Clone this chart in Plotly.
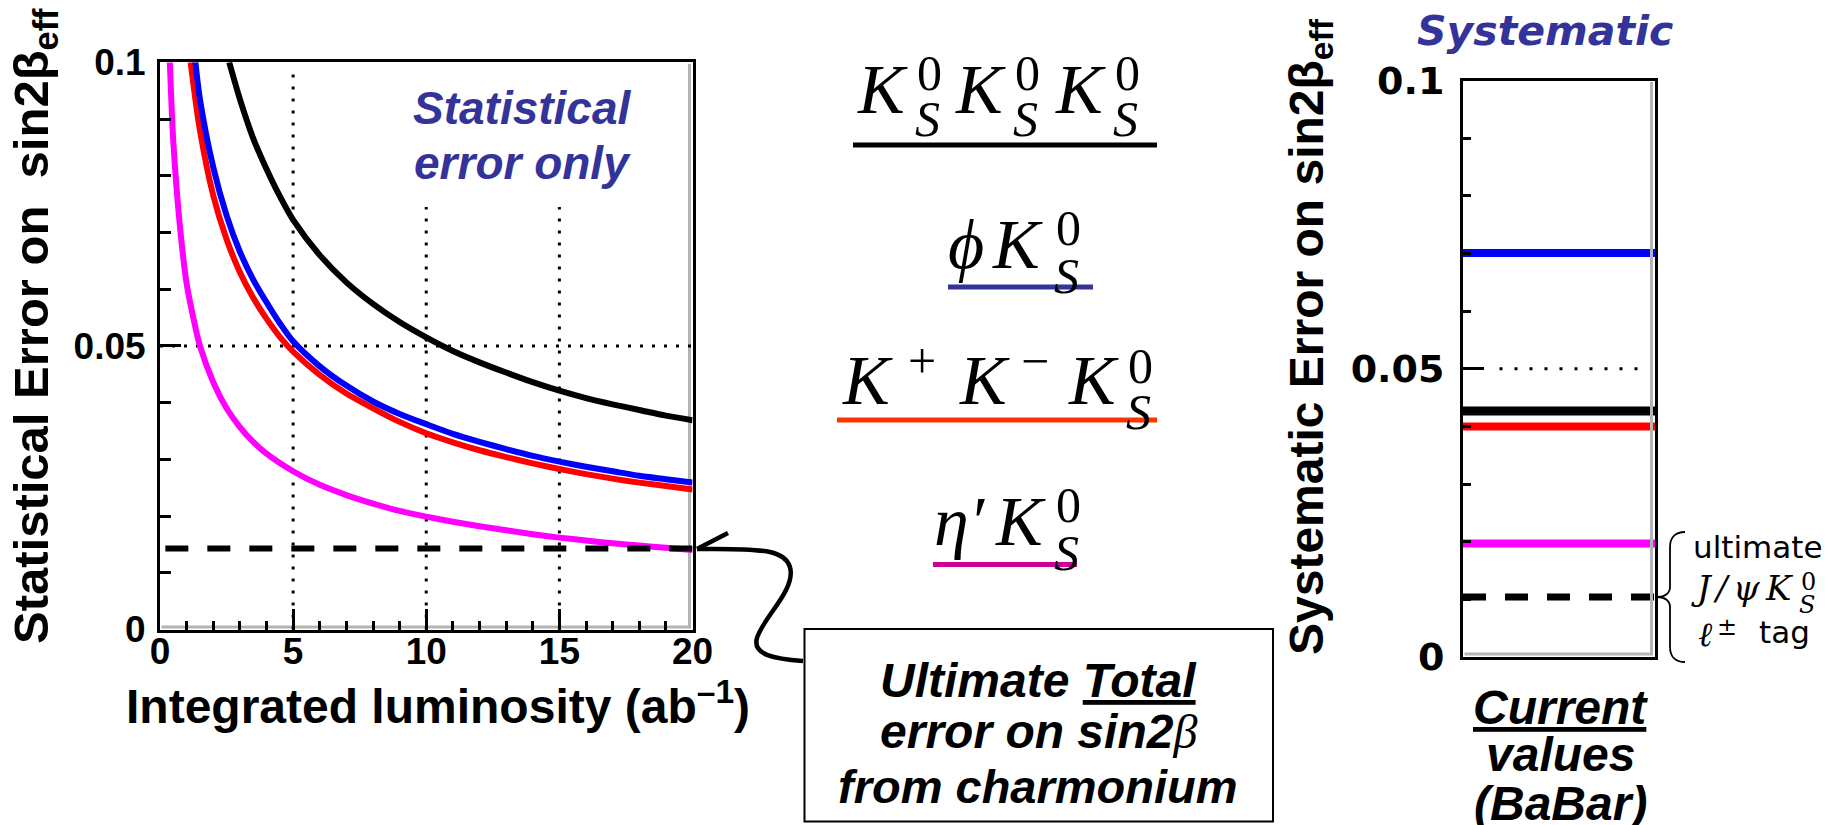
import plotly.graph_objects as go

# ---------------- data ----------------
# Statistical error vs integrated luminosity (ab^-1)
LUMI_KSKSKS = [2.6, 3.0, 3.5, 4.0, 4.5, 5, 6, 7, 8, 9, 10, 11, 12, 13, 14, 15, 16, 17, 18, 19, 20]
ERR_KSKSKS = [0.1000, 0.0935, 0.0866, 0.0812, 0.0764, 0.0722, 0.0660, 0.0612, 0.0574, 0.0542, 0.0515,
              0.0491, 0.0471, 0.0453, 0.0436, 0.0421, 0.0408, 0.0397, 0.0387, 0.0377, 0.0369]

LUMI_PHIKS = [1.33, 1.5, 2.0, 2.5, 3.0, 3.5, 4, 4.5, 5, 6, 7, 8, 9, 10, 11, 12, 13, 14, 15, 16, 17, 18, 19, 20]
ERR_PHIKS = [0.1000, 0.0935, 0.0815, 0.0730, 0.0666, 0.0617, 0.0577, 0.0540, 0.0508, 0.0464, 0.0430, 0.0402,
             0.0380, 0.0362, 0.0345, 0.0331, 0.0318, 0.0306, 0.0296, 0.0287, 0.0279, 0.0271, 0.0265, 0.0259]

LUMI_KKKS = [1.15, 1.5, 2.0, 2.5, 3.0, 3.5, 4, 4.5, 5, 6, 7, 8, 9, 10, 11, 12, 13, 14, 15, 16, 17, 18, 19, 20]
ERR_KKKS = [0.1000, 0.0880, 0.0765, 0.0688, 0.0630, 0.0585, 0.0548, 0.0516, 0.0490, 0.0449, 0.0416, 0.0390,
            0.0366, 0.0346, 0.0330, 0.0316, 0.0304, 0.0293, 0.0283, 0.0274, 0.0266, 0.0259, 0.0253, 0.0247]

LUMI_ETAPKS = [0.37, 0.5, 0.75, 1.0, 1.25, 1.5, 2.0, 2.5, 3, 3.5, 4, 5, 6, 7, 8, 9, 10, 11, 12, 13, 14, 15,
               16, 17, 18, 19, 20]
ERR_ETAPKS = [0.1000, 0.0860, 0.0710, 0.0610, 0.0550, 0.0500, 0.0436, 0.0390, 0.0357, 0.0331, 0.0310, 0.0279,
              0.0255, 0.0237, 0.0222, 0.0209, 0.0199, 0.0190, 0.0182, 0.0175, 0.0168, 0.0162, 0.0157, 0.0152,
              0.0148, 0.0144, 0.0140]

ULTIMATE_TOTAL = 0.0143          # ultimate total error from charmonium (dashed, left)

# Current systematic errors (BaBar)
SYST_MODES = ["KsKsKs", "phiKs", "KKKs", "etapKs"]
SYST_VALUES = [0.0427, 0.0701, 0.0400, 0.0197]
SYST_ULTIMATE_JPSI = 0.0104      # ultimate J/psi Ks, lepton tag (dashed, right)

X_TICKS = [0, 5, 10, 15, 20]
X_TICK_TEXT = ["0", "5", "10", "15", "20"]
Y_TICKS = [0, 0.05, 0.1]
Y_TICK_TEXT = ["0", "0.05", "0.1"]
LUMI_RANGE = [0, 20]
ERR_RANGE = [0, 0.1]

# ---------------- style ----------------
W, H = 1845, 825          # window
OFF = 8                   # page body margin
FW, FH = W - OFF, H - OFF
SANS = "Liberation Sans, Arial, sans-serif"
SERIF = "Liberation Serif, Times New Roman, serif"
DJ = "DejaVu Sans, sans-serif"
DJS = "DejaVu Serif, serif"
PURPLE = "#333399"
COLORS = {"KsKsKs": "#000000", "phiKs": "#0000FF", "KKKs": "#FF0000", "etapKs": "#FF00FF"}
SYST_WIDTH = {"KsKsKs": 9, "phiKs": 8, "KKKs": 8, "etapKs": 8}
GRAY = "#b4b4b4"


def px(x):
    return (x - OFF) / FW


def py(y):
    return 1 - (y - OFF) / FH


def path(cmds):
    s = []
    for c, pts in cmds:
        s.append(c + " " + " ".join(f"{px(a):.5f},{py(b):.5f}" for a, b in pts))
    return " ".join(s)


fig = go.Figure()

# ---------------- left panel curves ----------------
curves = [("KsKsKs", LUMI_KSKSKS, ERR_KSKSKS), ("KKKs", LUMI_KKKS, ERR_KKKS),
          ("phiKs", LUMI_PHIKS, ERR_PHIKS), ("etapKs", LUMI_ETAPKS, ERR_ETAPKS)]
for name, xs, ys in curves:
    fig.add_trace(go.Scatter(x=xs, y=ys, mode="lines", name=name, hoverinfo="skip",
                             line=dict(color=COLORS[name], width=6, shape="spline", smoothing=0.8),
                             xaxis="x", yaxis="y"))
fig.add_trace(go.Scatter(x=[LUMI_RANGE[0] + 0.2, LUMI_RANGE[1]], y=[ULTIMATE_TOTAL, ULTIMATE_TOTAL],
                         mode="lines", hoverinfo="skip",
                         line=dict(color="black", width=6, dash="23px,19px"), xaxis="x", yaxis="y"))

# ---------------- right panel lines ----------------
for name, v in zip(SYST_MODES, SYST_VALUES):
    fig.add_trace(go.Scatter(x=[0, 1], y=[v, v], mode="lines", hoverinfo="skip",
                             line=dict(color=COLORS[name], width=SYST_WIDTH[name]), xaxis="x2", yaxis="y2"))
fig.add_trace(go.Scatter(x=[0, 1], y=[SYST_ULTIMATE_JPSI, SYST_ULTIMATE_JPSI], mode="lines", hoverinfo="skip",
                         line=dict(color="black", width=7, dash="23px,19px"), xaxis="x2", yaxis="y2"))

shapes = []
# dotted grid, left panel
dot = dict(color="black", width=3, dash="3px,9px")
shapes.append(dict(type="line", xref="x", yref="y", x0=5, x1=5, y0=0, y1=0.098, line=dot, layer="below"))
for xv in (10, 15):
    shapes.append(dict(type="line", xref="x", yref="y", x0=xv, x1=xv, y0=0, y1=0.0745, line=dot, layer="below"))
shapes.append(dict(type="line", xref="x", yref="y", x0=0, x1=20, y0=0.05, y1=0.05, line=dot, layer="below"))
# dotted line, right panel
shapes.append(dict(type="line", xref="x2", yref="y2", x0=0.19, x1=0.93, y0=0.05, y1=0.05,
                   line=dict(color="black", width=3, dash="3px,12px")))
# frame shadows
shapes.append(dict(type="line", xref="paper", yref="paper", x0=px(689.5), x1=px(689.5), y0=py(628), y1=py(64),
                   line=dict(color=GRAY, width=3), layer="below"))
shapes.append(dict(type="line", xref="paper", yref="paper", x0=px(161.5), x1=px(691), y0=py(627), y1=py(627),
                   line=dict(color=GRAY, width=3), layer="below"))
shapes.append(dict(type="line", xref="paper", yref="paper", x0=px(1651.5), x1=px(1651.5), y0=py(655), y1=py(82),
                   line=dict(color=GRAY, width=3)))
shapes.append(dict(type="line", xref="paper", yref="paper", x0=px(1464.5), x1=px(1653), y0=py(654), y1=py(654),
                   line=dict(color=GRAY, width=3)))
# underlines of the mode labels
for (x0, x1, yy, c) in [(853, 1157, 145, "#000000"), (948, 1093, 287, PURPLE),
                        (837, 1157, 420, "#FF3300"), (933, 1077, 564.5, "#CC0099")]:
    shapes.append(dict(type="line", xref="paper", yref="paper", x0=px(x0), x1=px(x1), y0=py(yy), y1=py(yy),
                       line=dict(color=c, width=5)))
# box
shapes.append(dict(type="rect", xref="paper", yref="paper", x0=px(804.5), x1=px(1273), y0=py(821.5), y1=py(629),
                   line=dict(color="black", width=2)))
# curved arrow
shapes.append(dict(type="path", xref="paper", yref="paper",
                   path=path([("M", [(803, 661)]), ("C", [(775, 659), (752, 655), (757, 638)]),
                              ("C", [(761, 624), (779, 605), (786, 590)]),
                              ("C", [(795, 572), (792, 557), (770, 552)]),
                              ("C", [(750, 548), (720, 549), (697, 549)])]),
                   line=dict(color="black", width=4.5)))
shapes.append(dict(type="path", xref="paper", yref="paper",
                   path=path([("M", [(728, 533)]), ("L", [(697, 549), (727, 564)])]),
                   line=dict(color="black", width=4.5)))
# brace
shapes.append(dict(type="path", xref="paper", yref="paper",
                   path=path([("M", [(1685, 532)]), ("C", [(1676, 532), (1670, 537), (1670, 547)]),
                              ("L", [(1670, 587)]), ("C", [(1670, 593), (1665, 597), (1658, 597)]),
                              ("C", [(1665, 597), (1670, 601), (1670, 607)]), ("L", [(1670, 647)]),
                              ("C", [(1670, 657), (1676, 662), (1685, 662)])]),
                   line=dict(color="black", width=1.8)))

ann = []


def A(x, y, text, size, family, color="black", xanchor="center", angle=0):
    ann.append(dict(x=px(x), y=py(y), xref="paper", yref="paper", text=text, showarrow=False,
                    xanchor=xanchor, yanchor="middle", textangle=angle,
                    font=dict(family=family, size=size, color=color)))


# axis titles
A(35, 326, "<b>Statistical Error on\u00a0\u00a0sin2β<sub>eff</sub></b>", 49, SANS, angle=-90)
A(438, 703, "<b>Integrated luminosity (ab<sup>–1</sup>)</b>", 48, SANS)
A(1310, 337, "<b>Systematic Error on sin2β<sub>eff</sub></b>", 48, SANS, angle=-90)
# panel texts
A(522, 108, "<b><i>Statistical</i></b>", 46, SANS, PURPLE)
A(522, 163, "<b><i>error only</i></b>", 46, SANS, PURPLE)
A(1545, 31, "<b><i>Systematic</i></b>", 41, DJ, PURPLE)
A(1560, 707, "<b><i><u>Current</u></i></b>", 48, SANS)
A(1560, 754, "<b><i>values</i></b>", 48, SANS)
A(1560, 803, "<b><i>(BaBar)</i></b>", 48, SANS)
# box text
A(1038, 680, "<b><i>Ultimate <u>Total</u></i></b>", 48, SANS)
A(1038, 731, "<b><i>error on sin2</i></b><span style='font-family:Liberation Serif'><i>β</i></span>", 48, SANS)
A(1038, 786, "<b><i>from charmonium</i></b>", 47, SANS)

# mode labels (math style)
MAIN, SCR = 70, 50


def ks(xk, yk, xs, y0, yS):
    A(xk, yk, "<i>K</i>", MAIN, SERIF)
    A(xs, y0, "0", SCR, SERIF)
    A(xs - 2, yS, "<i>S</i>", SCR, SERIF)


for xk, xs in [(882, 929), (980, 1027), (1080, 1127)]:
    ks(xk, 89.5, xs, 73, 119)
A(966, 244.5, "<i>ϕ</i>", MAIN, SERIF)
ks(1017, 244.5, 1068, 228, 276)
A(867, 380.5, "<i>K</i>", MAIN, SERIF)
A(922, 360.6, "+", SCR, SERIF)
A(984, 380.5, "<i>K</i>", MAIN, SERIF)
A(1035, 360.6, "−", SCR, SERIF)
ks(1093, 380.5, 1140, 366, 412)
A(960, 521.5, "<i>η′</i>", MAIN, SERIF)
ks(1020, 521.5, 1068, 505, 553)

# brace labels
A(1757, 547, "ultimate", 31, DJ)
for gx, g in [(1702, "J"), (1722, "/"), (1746, "ψ"), (1779, "K")]:
    A(gx, 588, f"<i>{g}</i>", 34, DJS)
A(1808, 581.5, "0", 24, DJS)
A(1807, 604.5, "<i>S</i>", 24, DJS)
A(1705, 634, "<i>ℓ</i>", 34, DJS)
A(1727, 627, "±", 24, DJS)
A(1784, 632, "tag", 31, DJ)

fig.update_layout(
    width=FW, height=FH, margin=dict(l=0, r=0, t=0, b=0, pad=0, autoexpand=False),
    paper_bgcolor="white", plot_bgcolor="white",
    showlegend=False, shapes=shapes, annotations=ann,
    xaxis=dict(domain=[px(160), px(692.5)], range=LUMI_RANGE, anchor="y", showline=True, linewidth=3,
               linecolor="black", mirror=True, ticks="inside", tickvals=X_TICKS, ticktext=X_TICK_TEXT,
               ticklen=21, tickwidth=3, tickcolor="black", showgrid=False, zeroline=False, automargin=False,
               minor=dict(dtick=1, ticks="inside", ticklen=9, tickwidth=3, tickcolor="black", showgrid=False),
               tickfont=dict(family=SANS, size=37, color="black", weight="bold"), ticklabelstandoff=-13),
    yaxis=dict(domain=[py(629.5), py(62.3)], range=ERR_RANGE, anchor="x", showline=True, linewidth=3,
               linecolor="black", mirror=True, ticks="inside", tickvals=Y_TICKS, ticktext=Y_TICK_TEXT,
               ticklen=21, tickwidth=3, tickcolor="black", showgrid=False, zeroline=False, automargin=False,
               minor=dict(dtick=0.01, ticks="inside", ticklen=11, tickwidth=3, tickcolor="black", showgrid=False),
               tickfont=dict(family=SANS, size=37, color="black", weight="bold"), ticklabelstandoff=4),
    xaxis2=dict(domain=[px(1463), px(1655)], range=[0, 1], anchor="y2", showline=True, linewidth=3,
                linecolor="black", mirror=True, ticks="", showticklabels=False, showgrid=False, zeroline=False,
                automargin=False),
    yaxis2=dict(domain=[py(657), py(80.7)], range=ERR_RANGE, anchor="x2", showline=True, linewidth=3,
                linecolor="black", mirror=True, ticks="inside", tickvals=Y_TICKS, ticktext=Y_TICK_TEXT,
                ticklen=21, tickwidth=3, tickcolor="black", showgrid=False, zeroline=False, automargin=False,
                minor=dict(dtick=0.01, ticks="inside", ticklen=8, tickwidth=3, tickcolor="black", showgrid=False),
                tickfont=dict(family=DJ, size=38, color="black", weight="bold"), ticklabelstandoff=8),
)

fig.write_html("out.html")
